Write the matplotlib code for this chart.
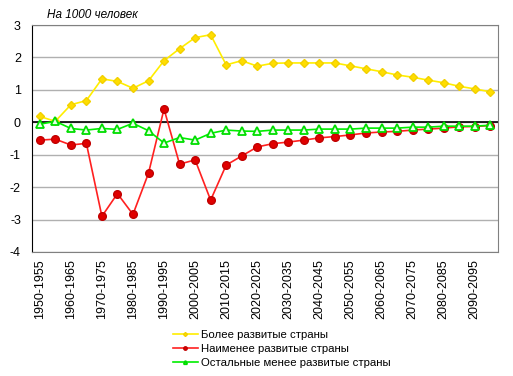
import matplotlib.pyplot as plt
import numpy as np

# Периоды по пять лет
periods = ['%d-%d' % (y, y + 5) for y in range(1950, 2100, 5)]

# На 1000 человек
more_dev = [0.18, 0.03, 0.54, 0.67, 1.34, 1.26, 1.05, 1.28, 1.90, 2.27,
            2.61, 2.70, 1.77, 1.90, 1.73, 1.82, 1.83, 1.83, 1.83, 1.83,
            1.74, 1.65, 1.56, 1.46, 1.39, 1.30, 1.22, 1.11, 1.03, 0.94]
least_dev = [-0.55, -0.52, -0.70, -0.65, -2.90, -2.20, -2.84, -1.57, 0.41, -1.29,
             -1.16, -2.40, -1.32, -1.04, -0.76, -0.66, -0.61, -0.55, -0.48, -0.44,
             -0.39, -0.33, -0.30, -0.28, -0.24, -0.21, -0.18, -0.14, -0.13, -0.10]
other_less = [-0.06, 0.03, -0.19, -0.24, -0.19, -0.22, -0.03, -0.26, -0.64, -0.47,
              -0.55, -0.34, -0.24, -0.27, -0.28, -0.24, -0.24, -0.24, -0.21, -0.21,
              -0.21, -0.18, -0.18, -0.18, -0.15, -0.15, -0.12, -0.12, -0.12, -0.09]

plt.rcParams['font.family'] = ['Liberation Sans', 'DejaVu Sans']
plt.rcParams['axes.unicode_minus'] = False

fig = plt.figure(figsize=(5.13, 3.76), dpi=100)
ax = fig.add_axes([32 / 513, 1 - 252 / 376, 466 / 513, 227 / 376])

x = np.arange(len(periods))
l1, = ax.plot(x, more_dev, color='#ffee00', marker='D', markersize=4.5,
              markerfacecolor='#ffdd00', markeredgecolor='#f2d000', lw=1.2,
              label='Более развитые страны')
l2, = ax.plot(x, least_dev, color='#ff2020', marker='o', markersize=5.5,
              markerfacecolor='#e00000', markeredgecolor='#c00000', lw=1.2,
              label='Наименее развитые страны')
l3, = ax.plot(x, other_less, color='#00ee00', marker='^', markersize=5.5,
              markerfacecolor='#e8ffe8', markeredgecolor='#00dd00', mew=1.3, lw=1.2,
              label='Остальные менее развитые страны')

ax.set_xlim(-0.5, len(periods) - 0.5)
ax.set_ylim(-4, 3)
ax.set_yticks(range(-4, 4))
ax.yaxis.grid(True, color='#b0b0b0', lw=1)
ax.set_axisbelow(True)
ax.axhline(0, color='black', lw=1.2, zorder=1.5)

ax.set_xticks(x[::2])
ax.set_xticklabels(periods[::2], rotation=90)
ax.tick_params(length=0, labelsize=9, colors='black')
ax.tick_params(axis='x', pad=5)
ax.tick_params(axis='y', pad=8)

for s in ['top', 'right', 'bottom']:
    ax.spines[s].set_color('#808080')
ax.spines['left'].set_color('black')

fig.text(47 / 513, 1 - 18 / 376, 'На 1000 человек', style='italic', fontsize=8.5)

leg = fig.legend(handles=[l1, l2, l3], loc='upper left',
                 bbox_to_anchor=(167 / 513, 1 - 324 / 376), frameon=False,
                 fontsize=8.2, handlelength=2.2, handletextpad=0.3,
                 labelspacing=0.38, markerscale=0.45, borderpad=0)

fig.savefig('out.png', dpi=100)
